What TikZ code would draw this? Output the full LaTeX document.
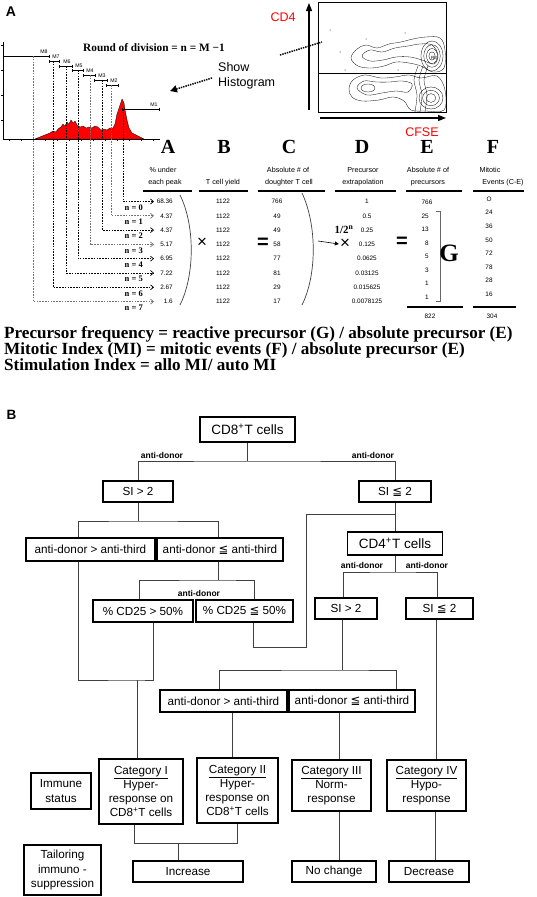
\documentclass[tikz,border=0pt]{standalone}
\usepackage{fontspec}
\setmainfont{Liberation Serif}
\setsansfont{Liberation Sans}
\newfontfamily\symfont{DejaVu Sans}
\usetikzlibrary{arrows.meta,calc}

\newcommand{\fsz}[2]{\fontsize{#1}{#2}\selectfont}
\newcommand{\leqslt}{{\symfont ≦}}

\tikzset{
  box/.style={draw,line width=1.4pt,inner sep=0pt,align=center,
    font=\sffamily\fsz{11.7}{14.3}},
  titlebox/.style={box,font=\sffamily\fsz{13.5}{15}},
  link/.style={line width=1pt,black!75},
  branch/.style={inner sep=0pt,font=\sffamily\bfseries\fsz{8.5}{9}},
  val/.style={inner sep=0pt,font=\sffamily\fsz{6.4}{7}},
  hd/.style={inner sep=0pt,font=\sffamily\fsz{7.2}{8}},
  colhead/.style={inner sep=0pt,font=\bfseries\fsz{20}{20}},
  nlab/.style={inner sep=0pt,font=\bfseries\fsz{8.5}{9}},
  mlab/.style={inner sep=0pt,font=\sffamily\fsz{5.2}{6}},
  mbar/.style={line width=.4pt,{Bar[width=3pt]}-{Bar[width=3pt]}},
  guide/.style={line width=.7pt,dash pattern=on 1.6pt off 1.2pt,
    -{Straight Barb[length=3pt,width=5pt]}},
  pointer/.style={line width=1.5pt,dash pattern=on 1.4pt off 1pt},
}

\begin{document}
\begin{tikzpicture}[x=1pt,y=-1pt]
\useasboundingbox (0,0) rectangle (536,897);

% ---------- panel A
\node[font=\sffamily\bfseries\fsz{14}{14}] (labA) at (11,12) {A};

% histogram
\draw[line width=.5pt] (3,42) -- (3,139) -- (160,139);
\foreach \y in {45,70,95,120} \draw[line width=.4pt] (1,\y) -- (3,\y);
\foreach \x in {9,21,...,153} \draw[line width=.4pt] (\x,139) -- (\x,141);
\filldraw[fill=red,draw=black,line width=.3pt] (35,139) -- (40,137) -- (45,135) -- (50,133)
 -- (53,131) -- (56,132) -- (58,129) -- (61,127) -- (63,124) -- (65,126) -- (67,122)
 -- (69,124) -- (71,120) -- (73,123) -- (75,121) -- (77,125) -- (80,127) -- (83,126)
 -- (86,128) -- (89,127) -- (92,128) -- (95,126) -- (98,127) -- (101,130) -- (104,129)
 -- (107,130) -- (110,128) -- (113,128) -- (115,124) -- (117,114) -- (119,108) -- (121,102)
 -- (122,99) -- (124,103) -- (125,110) -- (127,120) -- (129,128) -- (132,133) -- (136,135)
 -- (140,137) -- (144,139) -- cycle;
\foreach \i/\xl/\xr/\y/\lx in {8/3/49/56/44,7/49/59/61/56,6/59/72/66/67,5/72/83/70/79,
  4/83/95/75/90,3/94/107/80/102,2/106/118/85/114,1/122/159/109/154}{
  \draw[mbar] (\xl,\y) -- (\xr,\y);
  \node[mlab] (m\i) at (\lx,\y-4.5) {M\i};
}
\node[anchor=base west,inner sep=0pt,font=\bfseries\fsz{11.3}{12}] (rod) at (83,51)
  {Round of division = n = M −1};

% show histogram
\node[anchor=west,align=left,inner sep=0pt,font=\sffamily\fsz{12.5}{15}] (show) at (218,75.5)
  {Show\\Histogram};
\coordinate (histpt) at (170,91);
\draw[pointer,-{Triangle[length=7pt,width=7pt]}] ($(show.west)+(-6,2.5)$) -- (histpt);
\coordinate (showend) at (280,55);
\coordinate (plotpt) at (322,42);
\draw[pointer] (showend) -- (plotpt);

% CD4 / CFSE plot
\draw[line width=.6pt] (318,2) rectangle (446,112);
\draw[line width=.4pt] (318,73) -- (446,73);
\draw[line width=1.3pt,-{Triangle[length=8pt,width=6pt]}] (309,110) -- (309,3);
\draw[line width=1.3pt,-{Triangle[length=8pt,width=6pt]}] (320,118) -- (446,118);
\node[red,font=\sffamily\fsz{12.5}{13}] (cd4ax) at (283,17) {CD4};
\node[red,font=\sffamily\fsz{12.5}{13}] (cfse) at (422,132) {CFSE};
\begin{scope}[line width=.3pt]
 \draw plot[smooth cycle,tension=.6] coordinates {(351,58) (357,49) (366,45) (377,48)
   (389,44) (401,42) (413,39) (426,37) (440,38) (445,50) (444,68) (433,72) (421,66)
   (409,63) (396,62) (384,66) (371,68) (358,66)};
 \draw plot[smooth cycle,tension=.6] coordinates {(362,56) (370,50) (382,52) (395,48)
   (408,46) (420,44) (432,45) (438,55) (434,64) (422,60) (410,57) (396,57) (383,60) (370,61)};
 \draw plot[smooth cycle,tension=.6] coordinates {(349,89) (353,80) (365,75) (381,78)
   (395,77) (409,75) (421,78) (437,76) (445,90) (444,110) (426,111) (411,110) (404,101)
   (393,97) (379,100) (362,101) (352,97)};
 \draw plot[smooth cycle,tension=.6] coordinates {(357,88) (364,81) (376,82) (390,82)
   (402,81) (412,84) (408,92) (396,91) (382,93) (367,95)};
 \draw (368,88) ellipse [x radius=7pt,y radius=4pt];
 \foreach \s in {1,.75,.5,.28} \draw (432,56) ellipse [x radius=\s*11pt,y radius=\s*15pt];
 \foreach \s in {1,.7,.4} \draw (431,98) ellipse [x radius=\s*12pt,y radius=\s*11pt];
 \foreach \xx in {415,420,425} \draw plot[smooth] coordinates {(\xx,112) (\xx+2,95) (\xx-1,80) (\xx+3,66)};
 \foreach \p in {(330,30),(340,52),(345,70),(398,70),(405,33),(366,39)} \fill \p circle (.5pt);
\end{scope}
\node[inner sep=0pt,font=\sffamily\fsz{4.5}{5}] (r3) at (434,58) {R3};

% table heads
\node[colhead] (hA) at (168,147) {A};
\node[colhead] (hB) at (224,147) {B};
\node[colhead] (hC) at (289,147) {C};
\node[colhead] (hD) at (362,147) {D};
\node[colhead] (hE) at (427,147) {E};
\node[colhead] (hF) at (493,147) {F};
\node[hd] (hA1) at (163,170) {\% under};
\node[hd] (hA2) at (165,183) {each peak};
\node[hd] (hB2) at (223,183) {T cell yield};
\node[hd] (hC1) at (288,170) {Absolute \# of};
\node[hd] (hC2) at (289,183) {doughter T cell};
\node[hd] (hD1) at (363,170) {Precursor};
\node[hd] (hD2) at (363,183) {extrapolation};
\node[hd] (hE1) at (428,170) {Absolute \# of};
\node[hd] (hE2) at (428,183) {precursors};
\node[hd] (hF1) at (490,170) {Mitotic};
\node[hd] (hF2) at (503,183) {Events (C-E)};
\foreach \l/\r in {143/192,199/248,258/325,335/396,406/462,473/524}
  \draw[line width=1.2pt] (\l,191) -- (\r,191);

% rows
\foreach \k/\x/\t/\c/\va/\vc/\vd in {0/123/109/black/68.36/766/1,
  1/111/85/black!55/4.37/49/0.5, 2/102/80/black/4.37/49/0.25,
  3/90/75/black!55/5.17/58/0.125, 4/78/70/black/6.95/77/0.0625,
  5/66/66/black/7.22/81/0.03125, 6/53/61/black/2.67/29/0.015625,
  7/33/56/black!55/1.6/17/0.0078125}{
  \pgfmathsetmacro\ry{201.5+14.3*\k}
  \node[val,anchor=east] (a\k) at (173,\ry) {\va};
  \node[val] (b\k) at (223,\ry) {1122};
  \node[val] (c\k) at (277,\ry) {\vc};
  \node[val] (d\k) at (367,\ry) {\vd};
  \draw[guide,draw=\c] (\x,\t) |- (a\k.west -| 154,0);
  \node[nlab,anchor=east] (n\k) at (143,\ry+6) {n = \k};
}
\node[val] (e0) at (427,202) {766};
\foreach \k/\v in {1/25,2/13,3/8,4/5,5/3,6/1,7/1}
  \node[val,anchor=east] (e\k) at (429,{216+13.5*(\k-1)}) {\v};
\foreach \k/\v in {0/O,1/24,2/36,3/50,4/72,5/78,6/28,7/16}
  \node[val] (f\k) at (489,{199+13.6*\k}) {\v};
\draw[line width=1.2pt] (407,307) -- (463,307);
\draw[line width=1.2pt] (473,307) -- (516,307);
\node[val] (etot) at (430,316) {822};
\node[val] (ftot) at (492,316) {304};

% operators
\draw[line width=.7pt,black!75] (180,195) .. controls (195,225) and (195,275) .. (180,305);
\draw[line width=.7pt,black!75] (302,193) .. controls (317,225) and (317,275) .. (302,305);
\node[font=\sffamily\fsz{17}{17}] (times1) at (202,243) {×};
\node[font=\sffamily\bfseries\fsz{20}{20}] (eq1) at (263,243) {=};
\node[font=\sffamily\fsz{17}{17},inner sep=0pt] (times2) at (345,244) {×};
\node[inner sep=0pt,font=\bfseries\fsz{11}{11}] (pw) at (344,230) {1/2\textsuperscript{n}};
\coordinate (arrstart) at (318,241);
\draw[line width=.6pt,-{Triangle[length=4pt,width=4pt]}] (arrstart) -- ([xshift=-1pt]times2.west);
\node[font=\sffamily\bfseries\fsz{20}{20}] (eq2) at (402,242) {=};
\draw[line width=.5pt,black!60] (436,211) -- (440,211) -- (440,301) -- (436,301);
\node[inner sep=0pt,font=\bfseries\fsz{25}{25}] (G) at (449,253) {G};

% formulas
\node[anchor=base west,inner sep=0pt,font=\bfseries\fsz{17.1}{18}] (form1) at (4,338)
  {Precursor frequency = reactive precursor (G) / absolute precursor (E)};
\node[anchor=base west,inner sep=0pt,font=\bfseries\fsz{17.1}{18}] (form2) at (4,354)
  {Mitotic Index (MI) = mitotic events (F) / absolute precursor (E)};
\node[anchor=base west,inner sep=0pt,font=\bfseries\fsz{17.1}{18}] (form3) at (4,370)
  {Stimulation Index = allo MI/ auto MI};

% ---------- panel B
\node[font=\sffamily\bfseries\fsz{13.5}{14}] (labB) at (11.5,414.5) {B};

\node[titlebox,minimum width=95,minimum height=25] (cd8) at (247.5,429.5) {CD8\textsuperscript{+}T cells};
\node[box,minimum width=70,minimum height=21] (si1) at (138,491.5) {SI > 2};
\node[box,minimum width=72,minimum height=21] (si2) at (395,491.5) {SI \leqslt{} 2};
\node[box,minimum width=129,minimum height=23] (adgt1) at (90.5,549.5) {anti-donor > anti-third};
\node[box,minimum width=126,minimum height=23] (adle1) at (220,549.5) {anti-donor \leqslt{} anti-third};
\node[titlebox,minimum width=95,minimum height=23] (cd4) at (395,543.5) {CD4\textsuperscript{+}T cells};
\node[box,minimum width=100,minimum height=22] (cdgt) at (143,611) {\% CD25 > 50\%};
\node[box,minimum width=97,minimum height=22] (cdle) at (244.5,611) {\% CD25 \leqslt{} 50\%};
\node[box,minimum width=62,minimum height=21] (si3) at (346,608.5) {SI > 2};
\node[box,minimum width=67,minimum height=21] (si4) at (439.5,608.5) {SI \leqslt{} 2};
\node[box,minimum width=127,minimum height=22] (adgt2) at (223.5,701) {anti-donor > anti-third};
\node[box,minimum width=126,minimum height=22] (adle2) at (352,701) {anti-donor \leqslt{} anti-third};
\node[box,minimum width=84,minimum height=65] (cat1) at (141,791.5)
  {\underline{Category I}\\Hyper-\\response on\\CD8\textsuperscript{+}T cells};
\node[box,minimum width=81,minimum height=65] (cat2) at (237.5,790.5)
  {\underline{Category II}\\Hyper-\\response on\\CD8\textsuperscript{+}T cells};
\node[box,minimum width=79,minimum height=51] (cat3) at (331.5,785.5)
  {\underline{Category III}\\Norm-\\response};
\node[box,minimum width=79,minimum height=51] (cat4) at (426.5,785.5)
  {\underline{Category IV}\\Hypo-\\response};
\node[box,minimum width=60,minimum height=36] (immune) at (61,791) {Immune\\status};
\node[box,minimum width=77,minimum height=50] (tailor) at (62.5,870) {Tailoring\\immuno -\\suppression};
\node[box,minimum width=110,minimum height=21] (incr) at (188,871.5) {Increase};
\node[box,minimum width=84,minimum height=21] (noch) at (334,871.5) {No change};
\node[box,minimum width=80,minimum height=21] (decr) at (429,871.5) {Decrease};

% connectors
\coordinate (j1) at (247.5,461);
\draw[link] (cd8.south) -- (j1);
\draw[link] (si1.north) |- (j1) -| (si2.north);
\node[branch] (bl1) at (162,455) {anti-donor};
\node[branch] (bl2) at (373,455) {anti-donor};

\coordinate (j2) at (138,521);
\draw[link] (si1.south) -- (j2);
\draw[link] (adgt1.north -| 78,0) |- (j2) -| (adle1.north -| 218,0);

\coordinate (j3) at (218,580);
\draw[link] (adle1.south -| j3) -- (j3);
\draw[link] (cdgt.north -| 139,0) |- (j3) -| (cdle.north -| 254,0);
\node[branch] (bl5) at (199,593) {anti-donor};

\draw[link] (si2.south) -- (cd4.north);
\coordinate (j4) at (395,514);
\draw[link] (j4) -| (306,647) -| (cdle.south -| 253,0);

\coordinate (j5) at (395,572);
\draw[link] (cd4.south) -- (j5);
\draw[link] (si3.north -| 343,0) |- (j5) -| (si4.north -| 437,0);
\node[branch] (bl3) at (362,565) {anti-donor};
\node[branch] (bl4) at (427,565) {anti-donor};

\coordinate (j6) at (137,680);
\draw[link] (adgt1.south -| 78,0) |- (j6) -| (cdgt.south -| 153,0);
\draw[link] (j6) -- (cat1.north -| j6);

\coordinate (j7) at (342,670);
\draw[link] (si3.south -| j7) -- (j7);
\draw[link] (adgt2.north -| 219,0) |- (j7) -| (adle2.north -| 396,0);
\draw[link] (adgt2.south -| 232,0) -- (cat2.north -| 232,0);
\draw[link] (adle2.south -| 339,0) -- (cat3.north -| 339,0);
\draw[link] (si4.south -| 436,0) -- (cat4.north -| 436,0);

\coordinate (j8) at (178,843);
\draw[link] (cat1.south -| 134,0) |- (j8) -| (cat2.south -| 237,0);
\draw[link] (j8) -- (incr.north -| j8);
\draw[link] (cat3.south -| 339,0) -- (noch.north -| 339,0);
\draw[link] (cat4.south -| 435,0) -- (decr.north -| 435,0);
\end{tikzpicture}
\end{document}
